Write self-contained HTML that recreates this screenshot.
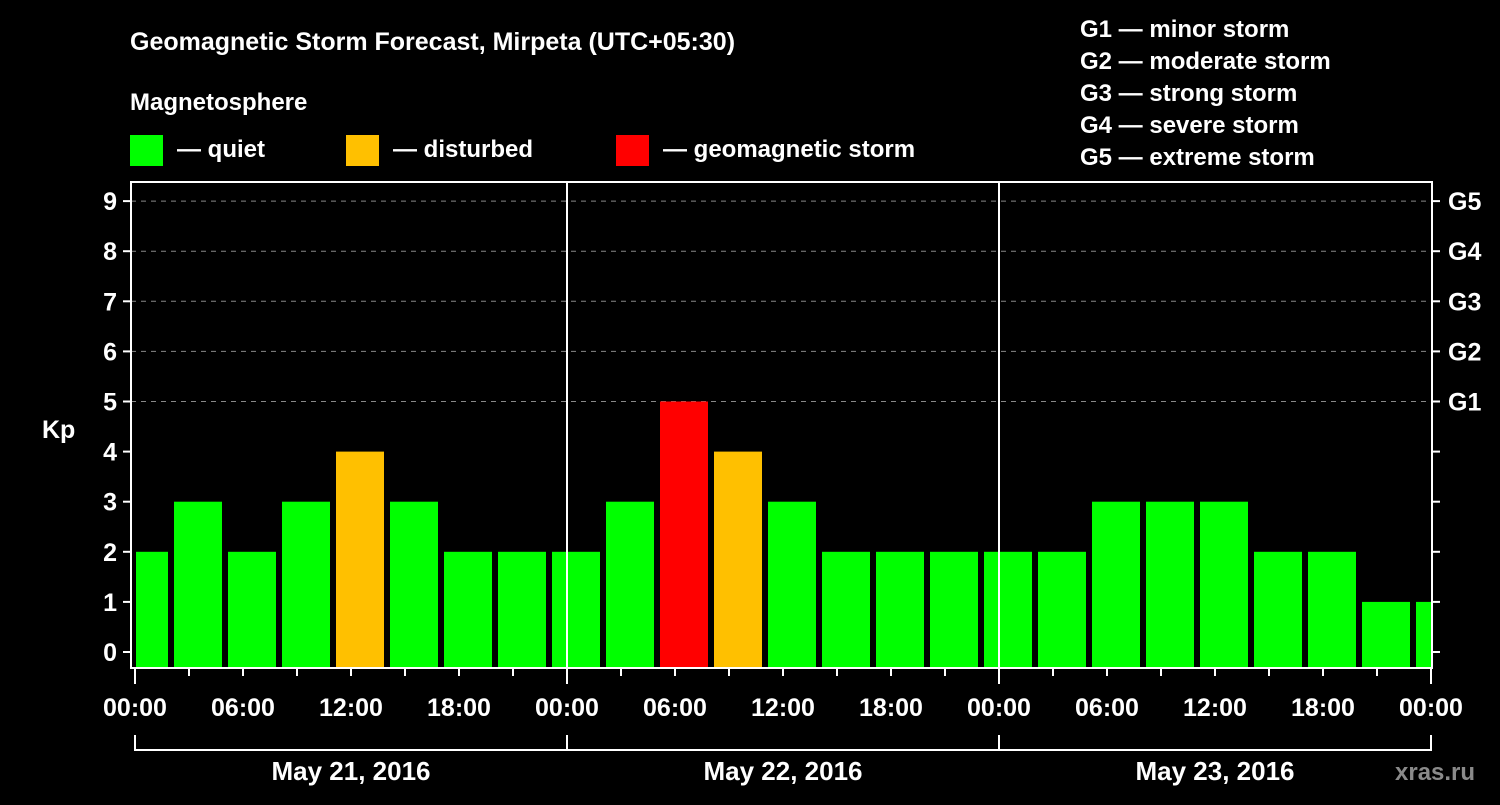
<!DOCTYPE html>
<html><head><meta charset="utf-8"><style>
body{margin:0;background:#000;width:1500px;height:800px;overflow:hidden;font-family:"Liberation Sans",sans-serif}
svg text{font-family:"Liberation Sans",sans-serif;font-weight:bold;fill:#fff}
</style></head><body>
<svg id="c" width="1500" height="800">
<text x="130" y="50" font-size="25">Geomagnetic Storm Forecast, Mirpeta (UTC+05:30)</text>
<text x="130" y="110" font-size="24">Magnetosphere</text>
<rect x="130" y="135" width="33" height="31" fill="#00ff00"/>
<text x="177" y="157" font-size="24">— quiet</text>
<rect x="346" y="135" width="33" height="31" fill="#ffc000"/>
<text x="393" y="157" font-size="24">— disturbed</text>
<rect x="616" y="135" width="33" height="31" fill="#ff0000"/>
<text x="663" y="157" font-size="24">— geomagnetic storm</text>
<g font-size="24">
<text x="1080" y="37">G1 — minor storm</text>
<text x="1080" y="69">G2 — moderate storm</text>
<text x="1080" y="101">G3 — strong storm</text>
<text x="1080" y="133">G4 — severe storm</text>
<text x="1080" y="165">G5 — extreme storm</text>
</g>
<text x="42" y="438" font-size="25">Kp</text>
<text x="1395" y="780" font-size="24" fill="#888" style="fill:#8a8a8a">xras.ru</text>
<g id="g"></g>
</svg>
<script>
const kpValues=[2,3,2,3,4,3,2,2,2,3,5,4,3,2,2,2,2,2,3,3,3,2,2,1,1];
const yTicks=[0,1,2,3,4,5,6,7,8,9];
const gLabels=["G1","G2","G3","G4","G5"];
const gLevels=[5,6,7,8,9];
const xTickLabels=["00:00","06:00","12:00","18:00","00:00","06:00","12:00","18:00","00:00","06:00","12:00","18:00","00:00"];
const dayLabels=["May 21, 2016","May 22, 2016","May 23, 2016"];
const L=131,R=1432,T=182,B=668,X0=135,PXH=18;
const y=v=>652-v*50.1;
const x=h=>X0+h*PXH;
const NS="http://www.w3.org/2000/svg";
const g=document.getElementById('g');
function mk(t,a){const e=document.createElementNS(NS,t);for(const k in a)e.setAttribute(k,a[k]);g.appendChild(e);return e;}
yTicks.forEach(v=>{
 if(v>0&&v>=5){const l=mk('line',{x1:L,x2:R,y1:y(v),y2:y(v),stroke:'#888','stroke-dasharray':'5,5','stroke-width':1});
 
 }
 const t=mk('line',{x1:L-8,x2:L,y1:y(v),y2:y(v),stroke:'#fff','stroke-width':2});
 
 
 const t2=mk('line',{x1:R,x2:R+8,y1:y(v),y2:y(v),stroke:'#fff','stroke-width':2});
 
 
 const tx=mk('text',{x:L-14,y:y(v)+9,'text-anchor':'end','font-size':25});tx.textContent=v;
 
 
});
gLabels.forEach((s,i)=>{const tx=mk('text',{x:R+16,y:y(gLevels[i])+9,'font-size':25});tx.textContent=s;
 
 });
kpValues.forEach((v,i)=>{
 const c=(3*i+0.5)*1;let x1=x(c)-24,x2=x(c)+24;x1=Math.max(x1,X0+1);x2=Math.min(x2,x(72));
 const col=v>=5?'#ff0000':v>=4?'#ffc000':'#00ff00';
 const r=mk('rect',{x:x1,y:y(v),width:x2-x1,height:B-y(v),fill:col});
 
 
});
[24,48].forEach(h=>{const l=mk('line',{x1:x(h),x2:x(h),y1:T,y2:B,stroke:'#fff','stroke-width':2});
 
 });
const f=mk('rect',{x:L,y:T,width:R-L,height:B-T,fill:'none',stroke:'#fff','stroke-width':2});


for(let h=0;h<=72;h+=3){const l=mk('line',{x1:x(h),x2:x(h),y1:B,y2:B+(h%24===0?16:8),stroke:'#fff','stroke-width':2});
 
 }
xTickLabels.forEach((s,i)=>{const t=mk('text',{x:x(i*6),y:716,'text-anchor':'middle','font-size':25});t.textContent=s;
 
 });
const br=mk('path',{d:`M${x(0)},735V750H${x(72)}V735M${x(24)},735V750M${x(48)},735V750`,stroke:'#fff','stroke-width':2,fill:'none'});


dayLabels.forEach((s,i)=>{const t=mk('text',{x:x(i*24+12),y:780,'text-anchor':'middle','font-size':26});t.textContent=s;
 
 });
</script>
</body></html>
